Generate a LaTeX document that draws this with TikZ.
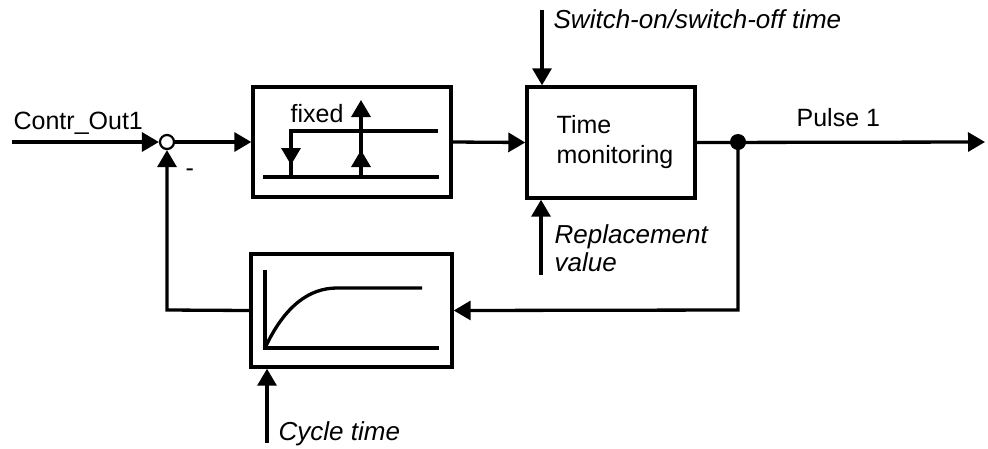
\documentclass[tikz,border=0pt]{standalone}
\usepackage{fontspec}
\setmainfont{Liberation Sans}
\usetikzlibrary{arrows.meta}
\begin{document}
\begin{tikzpicture}[x=1pt,y=-1pt,
  line width=3.3pt,
  arr/.style={-{Triangle[length=17pt,width=19pt]}},
  blk/.style={draw,line width=3.4pt,rectangle,inner sep=0pt},
  lbl/.style={anchor=base west,inner sep=0pt,font=\fontsize{25}{30}\selectfont},
  ilbl/.style={lbl,font=\fontsize{26}{30}\selectfont\itshape}]
\useasboundingbox (0,0) rectangle (988,448);
% blocks
\node[blk,minimum width=198pt,minimum height=110pt] (hys) at (352,142) {};
\node[blk,minimum width=168pt,minimum height=111pt] (tm) at (611,142.5) {};
\node[blk,minimum width=201pt,minimum height=113pt] (pt) at (351.5,310.5) {};
\node[draw,circle,line width=2.2pt,minimum size=14pt,inner sep=0pt] (sum) at (167,142) {};
\node[fill,circle,minimum size=16pt,inner sep=0pt] (dot) at (738,142) {};
\coordinate (in) at (12,142);
\coordinate (out) at (985,142);
\coordinate (fbr) at (738,310);
\coordinate (fbl) at (167,310);
\coordinate (sw) at (542,10);
\coordinate (rv) at (541,275);
\coordinate (ct) at (267,443);
% texts
\node[lbl] (tin) at (12,129) {Contr\_Out1};
\node[lbl] (tfix) at (289,122) {fixed};
\node[lbl] (tt1) at (555,133) {Time};
\node[lbl] (tt2) at (555,163) {monitoring};
\node[lbl] (tp) at (795,126) {Pulse 1};
\node[ilbl] (tsw) at (552,28) {Switch-on/switch-off time};
\node[ilbl] (trv1) at (553,243) {Replacement};
\node[ilbl] (trv2) at (553,271) {value};
\node[ilbl] (tct) at (277,440) {Cycle time};
\node[lbl] (tmin) at (184,176) {-};
% connectors
\draw[arr] (in) -- (sum.west);
\draw[arr] (sum.east) -- (hys.west);
\draw[arr] (hys.east) -- (tm.west);
\draw[arr] (tm.east) -- (out);
\draw[arr] (dot.center) -- (fbr) -- (pt.east);
\draw[arr] (pt.west) -- (fbl) -- (sum.south);
\draw[arr] (sw) -- (sw |- tm.north);
\draw[arr] (rv) -- (rv |- tm.south);
\draw[arr] (ct) -- (ct |- pt.south);
% hysteresis symbol
\draw (291,177) -- (291,131) -- (438,131);
\draw (263,177) -- (439,177);
\draw[arr] (291,131) -- (291,165);
\draw[arr] (361,177) -- (361,100);
\draw[arr] (361,177) -- (361,150);
% PT1 symbol
\draw (265,270) -- (265,348) -- (439,348);
\draw (265,348) .. controls (285,305) and (310,288) .. (337,288) -- (422,288);
\end{tikzpicture}
\end{document}
